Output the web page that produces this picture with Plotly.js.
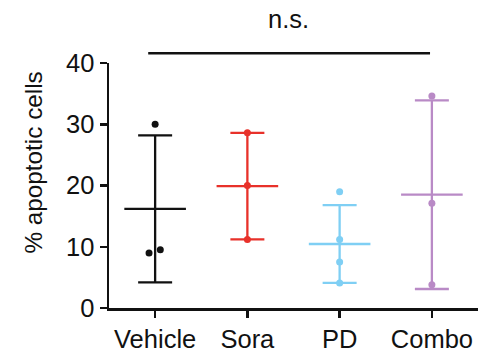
<!DOCTYPE html>
<html>
<head>
<meta charset="utf-8">
<script src="https://cdn.plot.ly/plotly-3.0.1.min.js"></script>
<style>html,body{margin:0;padding:0;background:#fff;}#chart{width:481px;height:354px;}</style>
</head>
<body>
<div id="chart"></div>
<script>
// ---- data ----
const categories = ['Vehicle', 'Sora', 'PD', 'Combo'];
const vehiclePts = [30.0, 9.0, 9.5];
const soraPts = [28.6, 20.0, 11.2];
const pdPts = [19.0, 11.2, 7.5, 4.1];
const comboPts = [34.6, 17.1, 3.8];
const groupMeans = [16.2, 19.9, 10.45, 18.5];
const groupSDs = [12.0, 8.7, 6.35, 15.4];
const pointJitter = [[0, -0.066, 0.056], [0, 0, 0], [0, 0, 0, 0], [0, 0, 0]];
const colors = ['#111111', '#e8312a', '#7fcff4', '#b98ac6'];
const yTicks = [0, 10, 20, 30, 40];
const yTitle = '% apoptotic cells';
const sigLabel = 'n.s.';
const sigBar = {from: -0.075, to: 2.98, y: 41.6, labelX: 1.45, labelY: 47.2};

const allPts = [vehiclePts, soraPts, pdPts, comboPts];
const xRange = [-0.5, 3.5];
const yRange = [0, 40];
const font = {family: '"Liberation Sans", Arial, Helvetica, sans-serif', color: '#111', size: 25.5};
const titleFont = Object.assign({}, font, {size: 24.3});

const traces = [];
categories.forEach((c, i) => {
  // mean line (line-ew marker: length = 1.4 * size) with SD whiskers
  traces.push({
    type: 'scatter', mode: 'markers',
    x: [i], y: [groupMeans[i]],
    marker: {symbol: 'line-ew', size: 44, color: colors[i], line: {color: colors[i], width: 2.3}},
    error_y: {type: 'data', array: [groupSDs[i]], visible: true, color: colors[i], thickness: 2.3, width: 17},
    cliponaxis: false, hoverinfo: 'skip'
  });
});
categories.forEach((c, i) => {
  traces.push({
    type: 'scatter', mode: 'markers',
    x: allPts[i].map((v, k) => i + pointJitter[i][k]),
    y: allPts[i],
    marker: {color: colors[i], size: 7},
    cliponaxis: false
  });
});

const toPaperX = v => (v - xRange[0]) / (xRange[1] - xRange[0]);
const toPaperY = v => (v - yRange[0]) / (yRange[1] - yRange[0]);

const layout = {
  width: 481, height: 354,
  margin: {l: 109, r: 3, t: 63, b: 46},
  paper_bgcolor: '#fff', plot_bgcolor: '#fff',
  showlegend: false,
  font: font,
  xaxis: {
    range: xRange, tickmode: 'array', tickvals: categories.map((c, i) => i), ticktext: categories,
    showline: true, linecolor: '#111', linewidth: 2.5,
    ticks: 'outside', ticklen: 7, tickwidth: 2.5, tickcolor: '#111',
    showgrid: false, zeroline: false, tickfont: font
  },
  yaxis: {
    range: yRange, tickmode: 'array', tickvals: yTicks,
    showline: true, linecolor: '#111', linewidth: 2.5,
    ticks: 'outside', ticklen: 7, tickwidth: 2.5, tickcolor: '#111',
    showgrid: false, zeroline: false, tickfont: font
  },
  shapes: [{
    type: 'line', xref: 'paper', yref: 'paper',
    x0: toPaperX(sigBar.from), x1: toPaperX(sigBar.to),
    y0: toPaperY(sigBar.y), y1: toPaperY(sigBar.y),
    line: {color: '#111', width: 2.5}
  }],
  annotations: [{
    text: sigLabel, xref: 'paper', yref: 'paper',
    x: toPaperX(sigBar.labelX), y: toPaperY(sigBar.labelY),
    showarrow: false, xanchor: 'center', yanchor: 'middle', font: font
  }, {
    text: yTitle, xref: 'paper', yref: 'paper', x: -0.205, y: 0.595,
    textangle: -90, showarrow: false, xanchor: 'center', yanchor: 'middle', font: titleFont
  }]
};

Plotly.newPlot('chart', traces, layout, {displayModeBar: false, staticPlot: true});
</script>
</body>
</html>
